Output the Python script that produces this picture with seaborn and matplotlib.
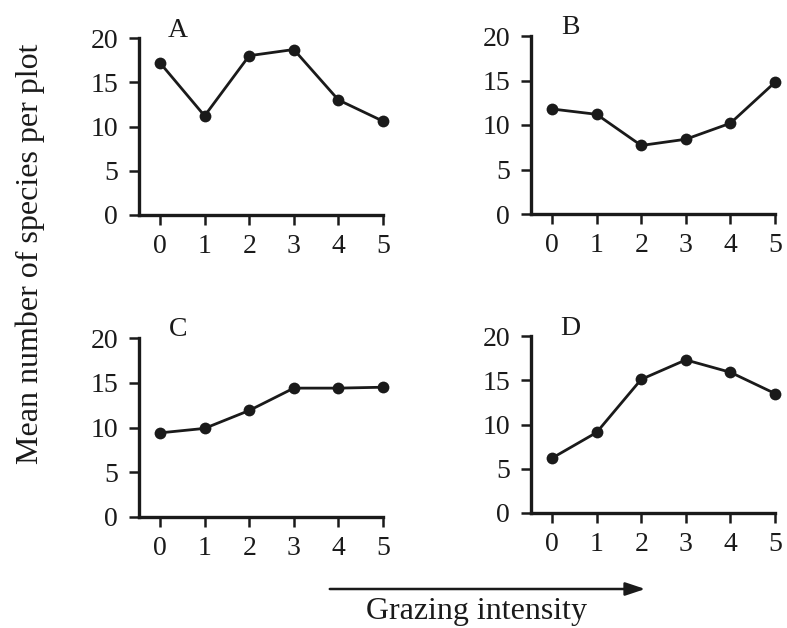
import matplotlib
matplotlib.use("Agg")
import matplotlib.pyplot as plt
import seaborn as sns
import pandas as pd
import numpy as np

sns.set_style("ticks")
plt.rcParams['font.family'] = ['Liberation Serif', 'DejaVu Serif']

grazing = [0, 1, 2, 3, 4, 5]
panel_A = [17.2, 11.2, 18.0, 18.7, 13.0, 10.6]
panel_B = [11.8, 11.2, 7.7, 8.4, 10.2, 14.8]
panel_C = [9.4, 9.9, 11.9, 14.4, 14.4, 14.5]
panel_D = [6.2, 9.1, 15.1, 17.3, 15.9, 13.5]
panel_names = ["A", "B", "C", "D"]
y_ticks = [0, 5, 10, 15, 20]

W, H = 787, 628
fig = plt.figure(figsize=(W / 100, H / 100), dpi=100)

# pixel boxes: (x of tick 0, x of tick 5, y of 0, y of 20)
boxes = {
    "A": (160, 383, 215, 38),
    "B": (552, 775, 214, 36),
    "C": (160, 383, 517, 338),
    "D": (552, 775, 513, 336),
}
xmin = -0.47
series = {"A": panel_A, "B": panel_B, "C": panel_C, "D": panel_D}

for name in panel_names:
    x0, x5, yb, yt = boxes[name]
    unit = (x5 - x0) / 5.0
    left = x0 + xmin * unit
    ax = fig.add_axes([left / W, (H - yb) / H, (x5 - left) / W, (yb - yt) / H])
    df = pd.DataFrame({"g": grazing, "v": series[name]})
    sns.lineplot(data=df, x="g", y="v", ax=ax, color="#1a1a1a", linewidth=2.0,
                 marker="o", markersize=8.5, markeredgewidth=0, clip_on=False)
    ax.set_xlim(xmin, 5)
    ax.set_ylim(0, 20)
    ax.set_xticks(grazing)
    ax.set_yticks(y_ticks)
    ax.set_xlabel("")
    ax.set_ylabel("")
    for s in ["top", "right"]:
        ax.spines[s].set_visible(False)
    for s in ["left", "bottom"]:
        ax.spines[s].set_linewidth(2.4)
        ax.spines[s].set_color("#1a1a1a")
    ax.tick_params(axis="both", direction="out", length=7, width=1.8,
                   color="#1a1a1a", labelsize=20, labelcolor="#1a1a1a")
    ax.tick_params(axis="x", pad=7)
    ax.tick_params(axis="y", pad=8)
    ax.set_facecolor("white")
    ax.text(0.16, 1.045, name, transform=ax.transAxes, fontsize=20,
            ha="center", va="center", color="#1a1a1a")

fig.text(30 / W, 1 - 254 / H, "Mean number of species per plot", rotation=90,
         ha="center", va="center", fontsize=23, color="#1a1a1a")

fig.patches.append(matplotlib.patches.FancyArrowPatch(
    (327 / W, 1 - 589 / H), (648 / W, 1 - 589 / H), transform=fig.transFigure,
    arrowstyle="-|>,head_length=12,head_width=4", mutation_scale=1,
    linewidth=1.8, color="#1a1a1a"))
fig.text(476 / W, 1 - 611 / H, "Grazing intensity", ha="center", va="center",
         fontsize=23, color="#1a1a1a")

fig.savefig("out.png", dpi=100, facecolor="white")
